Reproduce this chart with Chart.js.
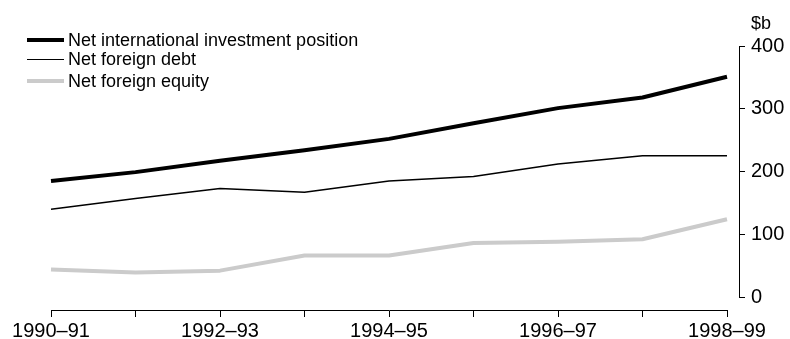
<!DOCTYPE html>
<html>
<head>
<meta charset="utf-8">
<script src="https://cdn.jsdelivr.net/npm/chart.js@4/dist/chart.umd.min.js"></script>
<style>
  html, body { margin: 0; padding: 0; background: #fff; }
  #wrap { position: relative; width: 790px; height: 339px; font-family: "Liberation Sans", Arial, sans-serif; color: #000; }
  #chart { position: absolute; left: 0; top: 0; }
  .legend-row { position: absolute; left: 27px; height: 20px; display: flex; align-items: center; font-size: 18px; white-space: nowrap; transform: translateY(-50%); }
  .legend-row .swatch { width: 37px; margin-right: 4px; }
  #unit { position: absolute; left: 751px; top: 13px; font-size: 18px; }
</style>
</head>
<body>
<div id="wrap">
  <canvas id="chart" width="790" height="339"></canvas>
  <div id="legend"></div>
  <div id="unit">$b</div>
</div>
<script>
// Financial years
const years = ['1990–91', '1991–92', '1992–93', '1993–94', '1994–95',
               '1995–96', '1996–97', '1997–98', '1998–99'];

// $ billion
const netInvestmentPosition = [185, 199, 217, 234, 252, 277, 301, 318, 351];
const netForeignDebt        = [140, 157, 173, 167, 185, 192, 212, 225, 225];
const netForeignEquity      = [44, 39, 42, 66, 66, 86, 88, 92, 124];

// Only every second year is labelled on the axis
const labelledYears = ['1990–91', '1992–93', '1994–95', '1996–97', '1998–99'];

const seriesNames = ['Net international investment position', 'Net foreign debt', 'Net foreign equity'];

const tickFont = { family: '"Liberation Sans", Arial, sans-serif', size: 20 };

const datasets = [
  { label: seriesNames[0], data: netInvestmentPosition, borderColor: '#000000', borderWidth: 4 },
  { label: seriesNames[1], data: netForeignDebt, borderColor: '#000000', borderWidth: 1.5 },
  { label: seriesNames[2], data: netForeignEquity, borderColor: '#cbcbcb', borderWidth: 4 }
].map(d => Object.assign(d, {
  xAxisID: 'x', yAxisID: 'y', fill: false, tension: 0,
  pointRadius: 0, pointHoverRadius: 0, borderJoinStyle: 'round', borderCapStyle: 'butt'
}));

new Chart(document.getElementById('chart'), {
  type: 'line',
  data: { labels: years, datasets },
  options: {
    responsive: false,
    animation: false,
    devicePixelRatio: 1,
    layout: { padding: { left: 51, top: 46, right: 0, bottom: 0 } },
    plugins: { legend: { display: false }, tooltip: { enabled: false } },
    scales: {
      // empty gap between the plot and the year axis
      gapX: {
        axis: 'x', type: 'linear', position: 'bottom', weight: 0,
        ticks: { display: false }, grid: { display: false }, border: { display: false },
        afterFit: s => { s.height = 13; }
      },
      x: {
        type: 'category', position: 'bottom', weight: 1, offset: false,
        grid: { display: true, drawOnChartArea: false, drawTicks: true, tickLength: 7, color: '#000', lineWidth: 1 },
        border: { display: true, color: '#000', width: 1 },
        ticks: {
          autoSkip: false, maxRotation: 0, padding: 2, color: '#000', font: tickFont,
          callback: function (v) {
            const l = this.getLabelForValue(v);
            return labelledYears.includes(l) ? l : '';
          }
        },
        afterFit: s => { s.height = 29; }
      },
      // empty gap between the plot and the value axis
      gapY: {
        axis: 'y', type: 'linear', position: 'right', weight: 0,
        ticks: { display: false }, grid: { display: false }, border: { display: false },
        afterFit: s => { s.width = 12; }
      },
      y: {
        type: 'linear', position: 'right', weight: 1, min: 0, max: 400,
        grid: { display: true, drawOnChartArea: false, drawTicks: true, tickLength: 6, color: '#000', lineWidth: 1 },
        border: { display: true, color: '#000', width: 1 },
        ticks: { stepSize: 100, padding: 6, color: '#000', font: tickFont },
        afterFit: s => { s.width = 51; }
      }
    }
  }
});

// Legend rows (vertical centres in px)
const legendRowCentres = [40, 59, 81];
const legend = document.getElementById('legend');
datasets.forEach((d, i) => {
  const row = document.createElement('div');
  row.className = 'legend-row';
  row.style.top = legendRowCentres[i] + 'px';
  const sw = document.createElement('span');
  sw.className = 'swatch';
  sw.style.height = '0';
  sw.style.borderTop = d.borderWidth + 'px solid ' + d.borderColor;
  const txt = document.createElement('span');
  txt.textContent = d.label;
  row.appendChild(sw);
  row.appendChild(txt);
  legend.appendChild(row);
});
</script>
</body>
</html>
